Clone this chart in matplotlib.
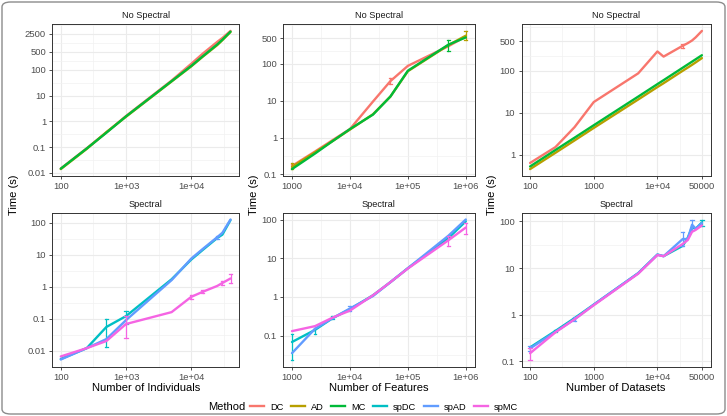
import numpy as np
import matplotlib
matplotlib.use("Agg")
import matplotlib.pyplot as plt
from matplotlib.patches import FancyBboxPatch
from matplotlib.lines import Line2D
from matplotlib.ticker import FixedLocator, NullFormatter

plt.rcParams['font.family'] = ['Liberation Sans', 'DejaVu Sans']

methods = ["DC", "AD", "MC", "spDC", "spAD", "spMC"]
colors = {"DC": "#F8766D", "AD": "#B79F00", "MC": "#00BA38",
          "spDC": "#00BFC4", "spAD": "#619CFF", "spMC": "#F564E3"}

# ---------------- Number of individuals ----------------
ind_x = [100, 250, 500, 1000, 5000, 10000, 15000, 25000, 30000, 40000]
ind_DC = [0.0147, 0.09, 0.37, 1.6, 38, 170, 420, 1200, 1700, 3200]
ind_AD = [0.014, 0.085, 0.38, 1.5, 35, 135, 320, 900, 1400, 2900]
ind_MC = [0.0145, 0.088, 0.36, 1.55, 36, 140, 330, 950, 1450, 3000]
ind_spDC = [0.0055, 0.012, 0.055, 0.12, 1.7, 7.0, 14, 33, 42, 120]
ind_spAD = [0.0053, 0.012, 0.023, 0.09, 1.6, 7.5, 15, 35, 48, 125]
ind_spMC = [0.0066, 0.012, 0.020, 0.068, 0.16, 0.48, 0.69, 1.05, 1.3, 1.8]
ind_err = {"spDC": [(500, 0.013, 0.095), (1000, 0.07, 0.17)],
           "spAD": [(25000, 30, 38)],
           "spMC": [(1000, 0.025, 0.12), (10000, 0.4, 0.55), (15000, 0.62, 0.76),
                    (30000, 1.1, 1.5), (40000, 1.3, 2.4)]}

# ---------------- Number of features ----------------
feat_x = [1000, 2500, 5000, 10000, 25000, 50000, 100000, 500000, 1000000]
feat_DC = [0.17, 0.42, 0.85, 1.7, 9.5, 34, 88, 300, 550]
feat_AD = [0.16, 0.4, 0.8, 1.65, 4.3, 13, 63, 320, 580]
feat_MC = [0.14, 0.37, 0.8, 1.7, 4.2, 13, 65, 330, 520]
feat_spDC = [0.068, 0.14, 0.28, 0.48, 1.1, 2.4, 5.5, 33, 90]
feat_spAD = [0.035, 0.15, 0.28, 0.5, 1.05, 2.4, 5.5, 38, 100]
feat_spMC = [0.13, 0.175, 0.29, 0.44, 1.1, 2.4, 5.4, 29, 62]
feat_err = {"DC": [(1000, 0.15, 0.19), (50000, 28, 40)],
            "AD": [(1000, 0.14, 0.2), (1000000, 450, 780)],
            "MC": [(500000, 220, 450)],
            "spDC": [(1000, 0.024, 0.11), (2500, 0.11, 0.16), (5000, 0.26, 0.32)],
            "spAD": [(10000, 0.42, 0.58)],
            "spMC": [(500000, 21, 37), (1000000, 42, 80)]}

# ---------------- Number of datasets ----------------
ds_x = [100, 250, 500, 1000, 5000, 10000, 12500, 25000, 30000, 35000, 40000, 50000]
ds_DC = [0.63, 1.5, 4.5, 17.8, 86, 285, 215, 390, 450, 520, 620, 880]
ds_AD = [0.45, 1.1, 2.17, 4.3, 20.5, 40.5, 50, 99, 118, 137, 157, 198]
ds_MC = [0.52, 1.28, 2.52, 4.98, 24, 47.5, 59, 117, 140, 163, 186, 232]
ds_spDC = [0.2, 0.45, 0.85, 1.65, 7.8, 19.5, 18, 30, 45, 75, 70, 95]
ds_spAD = [0.19, 0.43, 0.8, 1.65, 7.8, 19.5, 18, 42, 42, 85, 70, 92]
ds_spMC = [0.15, 0.42, 0.8, 1.6, 7.6, 19, 18, 33, 40, 60, 66, 82]
ds_err = {"DC": [(25000, 350, 430)],
          "spDC": [(250, 0.42, 0.48), (50000, 80, 110)],
          "spAD": [(100, 0.17, 0.21), (500, 0.75, 0.9), (25000, 30, 58), (35000, 65, 105)],
          "spMC": [(100, 0.11, 0.19)]}

ind_xticks = [100, 1000, 10000]
ind_xlabels = ["100", "1e+03", "1e+04"]
feat_xticks = [1000, 10000, 100000, 1000000]
feat_xlabels = ["1000", "1e+04", "1e+05", "1e+06"]
ds_xticks = [100, 1000, 10000, 50000]
ds_xlabels = ["100", "1000", "1e+04", "50000"]

yt_ind_ns = [0.01, 0.1, 1, 10, 100, 500, 2500]
yl_ind_ns = ["0.01", "0.1", "1", "10", "100", "500", "2500"]
yt_feat_ns = [0.1, 1, 10, 100, 500]
yl_feat_ns = ["0.1", "1", "10", "100", "500"]
yt_ds_ns = [1, 10, 100, 500]
yl_ds_ns = ["1", "10", "100", "500"]
yt_ind_sp = [0.01, 0.1, 1, 10, 100]
yl_ind_sp = ["0.01", "0.1", "1", "10", "100"]
yt_feat_sp = [0.1, 1, 10, 100]
yl_feat_sp = ["0.1", "1", "10", "100"]
yt_ds_sp = [0.1, 1, 10, 100]
yl_ds_sp = ["0.1", "1", "10", "100"]

W, H = 727, 416
fig = plt.figure(figsize=(W / 100, H / 100), dpi=100)

cols_px = [(52.3, 239.0), (283.3, 474.5), (521.5, 710.5)]
rows_px = [(24.0, 176.0), (212.5, 366.5)]


def ax_at(c, r):
    l, rr = cols_px[c]
    t, b = rows_px[r]
    return fig.add_axes([l / W, 1 - b / H, (rr - l) / W, (b - t) / H])


def minor_breaks(major, lo, hi):
    lm = np.log10(major)
    mids = list((lm[:-1] + lm[1:]) / 2)
    step0 = lm[1] - lm[0]
    step1 = lm[-1] - lm[-2]
    mids.append(lm[0] - step0 / 2)
    mids.append(lm[-1] + step1 / 2)
    return [10 ** m for m in mids if lo <= m <= hi]


def panel(ax, x, series, errs, xticks, xlabels, yticks, ylabels, title):
    allx = np.log10(x)
    ally = []
    for name, y in series:
        ally += list(np.log10(y))
        ax.plot(x, y, color=colors[name], lw=1.7, solid_capstyle='round',
                solid_joinstyle='round', zorder=3)
        for (ex, lo, hi) in errs.get(name, []):
            ax.plot([ex, ex], [lo, hi], color=colors[name], lw=0.9, zorder=3)
            cw = 10 ** 0.025
            ax.plot([ex / cw, ex * cw], [lo, lo], color=colors[name], lw=0.9, zorder=3)
            ax.plot([ex / cw, ex * cw], [hi, hi], color=colors[name], lw=0.9, zorder=3)
            ally += [np.log10(lo), np.log10(hi)]
    ax.set_xscale('log')
    ax.set_yscale('log')
    x0, x1 = allx.min(), allx.max()
    dx = (x1 - x0) * 0.05
    y0, y1 = min(ally), max(ally)
    dy = (y1 - y0) * 0.05
    ax.set_xlim(10 ** (x0 - dx), 10 ** (x1 + dx))
    ax.set_ylim(10 ** (y0 - dy), 10 ** (y1 + dy))
    ax.xaxis.set_major_locator(FixedLocator(xticks))
    ax.set_xticklabels(xlabels)
    ax.yaxis.set_major_locator(FixedLocator(yticks))
    ax.set_yticklabels(ylabels)
    ax.xaxis.set_minor_locator(FixedLocator(minor_breaks(xticks, x0 - dx, x1 + dx)))
    ax.yaxis.set_minor_locator(FixedLocator(minor_breaks(yticks, y0 - dy, y1 + dy)))
    ax.xaxis.set_minor_formatter(NullFormatter())
    ax.yaxis.set_minor_formatter(NullFormatter())
    ax.grid(which='major', color='#EBEBEB', lw=0.8, zorder=0)
    ax.grid(which='minor', color='#F2F2F2', lw=0.5, zorder=0)
    ax.set_axisbelow(True)
    ax.tick_params(which='major', length=2.5, width=0.6, color='#333333',
                   labelsize=6.8, labelcolor='#4D4D4D', pad=2)
    ax.tick_params(which='minor', length=0)
    for s in ax.spines.values():
        s.set_color('#333333')
        s.set_linewidth(0.7)
    ax.set_title(title, fontsize=6.6, pad=4, color='#1A1A1A')


a = ax_at(0, 0)
panel(a, ind_x, [("DC", ind_DC), ("AD", ind_AD), ("MC", ind_MC)], ind_err,
      ind_xticks, ind_xlabels, yt_ind_ns, yl_ind_ns, "No Spectral")
a = ax_at(1, 0)
panel(a, feat_x, [("DC", feat_DC), ("AD", feat_AD), ("MC", feat_MC)], feat_err,
      feat_xticks, feat_xlabels, yt_feat_ns, yl_feat_ns, "No Spectral")
a = ax_at(2, 0)
panel(a, ds_x, [("DC", ds_DC), ("AD", ds_AD), ("MC", ds_MC)], ds_err,
      ds_xticks, ds_xlabels, yt_ds_ns, yl_ds_ns, "No Spectral")
a = ax_at(0, 1)
panel(a, ind_x, [("spDC", ind_spDC), ("spAD", ind_spAD), ("spMC", ind_spMC)], ind_err,
      ind_xticks, ind_xlabels, yt_ind_sp, yl_ind_sp, "Spectral")
a.set_xlabel("Number of Individuals", fontsize=8, labelpad=1)
a = ax_at(1, 1)
panel(a, feat_x, [("spDC", feat_spDC), ("spAD", feat_spAD), ("spMC", feat_spMC)], feat_err,
      feat_xticks, feat_xlabels, yt_feat_sp, yl_feat_sp, "Spectral")
a.set_xlabel("Number of Features", fontsize=8, labelpad=1)
a = ax_at(2, 1)
panel(a, ds_x, [("spDC", ds_spDC), ("spAD", ds_spAD), ("spMC", ds_spMC)], ds_err,
      ds_xticks, ds_xlabels, yt_ds_sp, yl_ds_sp, "Spectral")
a.set_xlabel("Number of Datasets", fontsize=8, labelpad=1)

for xc in [14, 254, 492]:
    fig.text(xc / W, 1 - 195 / H, "Time (s)", rotation=90, fontsize=8,
             ha='center', va='center')

handles = [Line2D([0], [0], color=colors[m], lw=1.7) for m in methods]
fig.text(208 / W, 1 - 407 / H, "Method", fontsize=8, ha='left', va='center')
fig.legend(handles, methods, loc='center left', bbox_to_anchor=(250 / W, 1 - 407 / H),
           ncol=6, frameon=False, fontsize=6.7, handlelength=1.5,
           columnspacing=0.8, handletextpad=0.65, borderpad=0, borderaxespad=0)

frame = FancyBboxPatch((2 / W, 2 / H), 723 / W, 412 / H,
                       boxstyle="round,pad=0,rounding_size=0.012",
                       transform=fig.transFigure, fill=False,
                       edgecolor='#8C8C8C', lw=1.0)
fig.patches.append(frame)

fig.savefig("out.png", dpi=100)
